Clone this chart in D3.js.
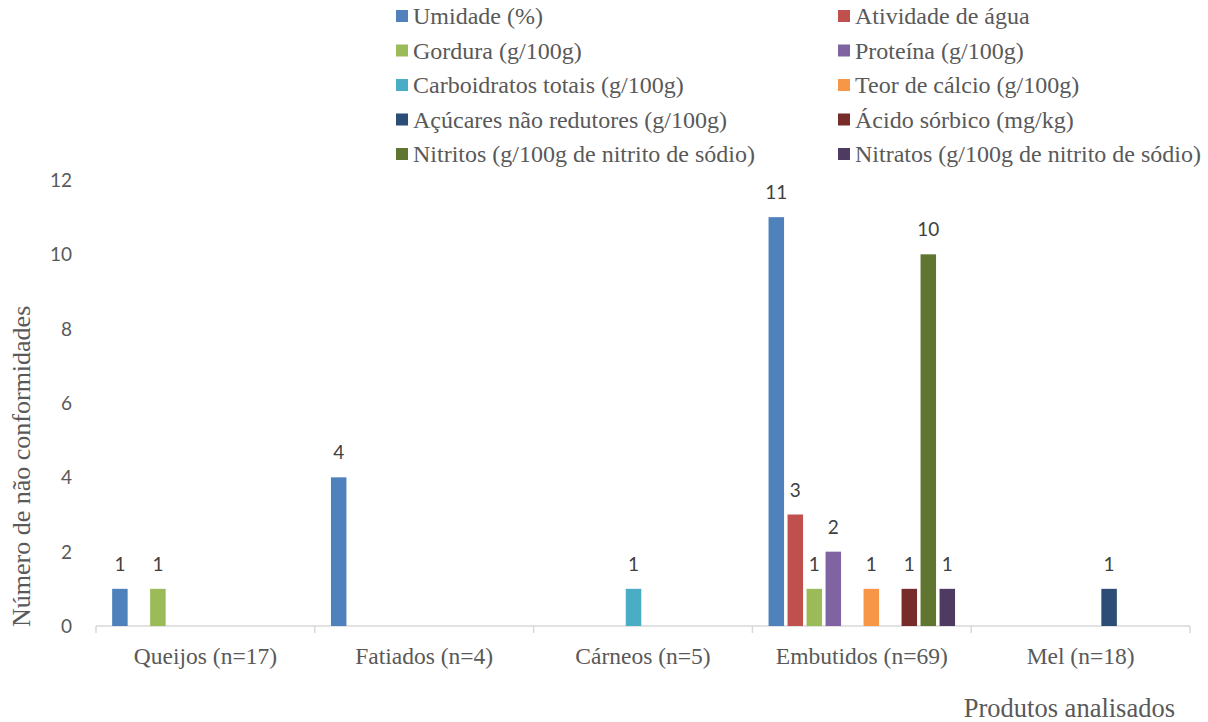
<!DOCTYPE html>
<html>
<head>
<meta charset="utf-8">
<script src="https://cdn.jsdelivr.net/npm/d3@7"></script>
<style>
  body { margin: 0; background: #fff; }
</style>
</head>
<body>
<script>
// categories on the x axis
var categories = ["Queijos (n=17)", "Fatiados (n=4)", "Cárneos (n=5)", "Embutidos (n=69)", "Mel (n=18)"];

// series names (legend order)
var series = [
  "Umidade (%)", "Atividade de água",
  "Gordura (g/100g)", "Proteína (g/100g)",
  "Carboidratos totais (g/100g)", "Teor de cálcio (g/100g)",
  "Açúcares não redutores (g/100g)", "Ácido sórbico (mg/kg)",
  "Nitritos (g/100g de nitrito de sódio)", "Nitratos (g/100g de nitrito de sódio)"
];

var colors = ["#4F81BD", "#C0504D", "#9BBB59", "#8064A2", "#4BACC6",
              "#F79646", "#2C4D75", "#772C2A", "#5F7530", "#4D3B62"];

// values per series, one per category
var umidade      = [1, 4, 0, 11, 0];
var atividade    = [0, 0, 0, 3, 0];
var gordura      = [1, 0, 0, 1, 0];
var proteina     = [0, 0, 0, 2, 0];
var carboidratos = [0, 0, 1, 0, 0];
var calcio       = [0, 0, 0, 1, 0];
var acucares     = [0, 0, 0, 0, 1];
var sorbico      = [0, 0, 0, 1, 0];
var nitritos     = [0, 0, 0, 10, 0];
var nitratos     = [0, 0, 0, 1, 0];

var yTicks = [0, 2, 4, 6, 8, 10, 12];

var values = [umidade, atividade, gordura, proteina, carboidratos,
              calcio, acucares, sorbico, nitritos, nitratos];

var SERIF = "'Liberation Serif', 'Times New Roman', serif";
var SANS = "Lato, 'Open Sans', sans-serif";

// - - - - - - build flat table
var rows = [];
categories.forEach(function(cat, ci){
  series.forEach(function(s, si){
    rows.push({cat: cat, s: s, si: si, v: values[si][ci]});
  });
});

var width = 1208, height = 722;
var margin = {top: 180, right: 18, bottom: 96, left: 96};

var svg = d3.select("body").append("svg")
  .attr("width", width)
  .attr("height", height);

var x0 = d3.scaleBand()
  .domain(categories)
  .range([margin.left, width - margin.right])
  .paddingInner(0)
  .paddingOuter(0);

var x1 = d3.scaleBand()
  .domain(series)
  .range([0, x0.bandwidth()])
  .paddingInner(0.184)
  .paddingOuter(0.85);

var y = d3.scaleLinear()
  .domain([0, 12])
  .range([height - margin.bottom, margin.top]);

// x axis line with boundary ticks
var baseY = y(0);
svg.append("line")
  .attr("x1", x0.range()[0]).attr("x2", x0.range()[1])
  .attr("y1", baseY).attr("y2", baseY)
  .attr("stroke", "#d9d9d9").attr("stroke-width", 1.5);

var bounds = categories.map(function(c){ return x0(c); }).concat([x0.range()[1]]);
svg.selectAll(".xtick")
  .data(bounds)
  .enter().append("line")
  .attr("x1", function(d){ return d; }).attr("x2", function(d){ return d; })
  .attr("y1", baseY).attr("y2", baseY + 7)
  .attr("stroke", "#d9d9d9").attr("stroke-width", 1.5);

svg.selectAll(".xlab")
  .data(categories)
  .enter().append("text")
  .attr("x", function(d){ return x0(d) + x0.bandwidth() / 2; })
  .attr("y", baseY + 38)
  .attr("text-anchor", "middle")
  .attr("fill", "#595959")
  .style("font-family", SERIF)
  .style("font-size", "23.5px")
  .text(function(d){ return d; });

// y tick labels (no axis line)
svg.selectAll(".ylab")
  .data(yTicks)
  .enter().append("text")
  .attr("x", 72)
  .attr("y", function(d){ return y(d); })
  .attr("dy", "0.36em")
  .attr("text-anchor", "end")
  .attr("fill", "#595959")
  .style("font-family", SANS)
  .style("font-size", "19px")
  .text(function(d){ return d; });

// bars
var shown = rows.filter(function(d){ return d.v > 0; });

svg.selectAll(".bar")
  .data(shown)
  .enter().append("rect")
  .attr("x", function(d){ return x0(d.cat) + x1(d.s); })
  .attr("y", function(d){ return y(d.v); })
  .attr("width", x1.bandwidth())
  .attr("height", function(d){ return y(0) - y(d.v); })
  .attr("fill", function(d){ return colors[d.si]; });

svg.selectAll(".val")
  .data(shown)
  .enter().append("text")
  .attr("x", function(d){ return x0(d.cat) + x1(d.s) + x1.bandwidth() / 2; })
  .attr("y", function(d){ return y(d.v) - 18; })
  .attr("text-anchor", "middle")
  .attr("fill", "#404040")
  .style("font-family", SANS)
  .style("font-size", "19px")
  .text(function(d){ return d.v; });

// axis titles
svg.append("text")
  .attr("transform", "translate(30," + (baseY + 1) + ") rotate(-90)")
  .attr("text-anchor", "start")
  .attr("fill", "#595959")
  .style("font-family", SERIF)
  .style("font-size", "26px")
  .text("Número de não conformidades");

svg.append("text")
  .attr("x", 1175)
  .attr("y", 717)
  .attr("text-anchor", "end")
  .attr("fill", "#595959")
  .style("font-family", SERIF)
  .style("font-size", "26.5px")
  .text("Produtos analisados");

// legend, two columns
var legend = svg.selectAll(".leg")
  .data(series)
  .enter().append("g")
  .attr("transform", function(d, i){
    var col = i % 2, row = Math.floor(i / 2);
    return "translate(" + (col === 0 ? 396 : 838) + "," + (16 + row * 34.5) + ")";
  });

legend.append("rect")
  .attr("x", 0).attr("y", -6)
  .attr("width", 12).attr("height", 12)
  .attr("fill", function(d, i){ return colors[i]; });

legend.append("text")
  .attr("x", 17)
  .attr("dy", "0.35em")
  .attr("fill", "#595959")
  .style("font-family", SERIF)
  .style("font-size", "24px")
  .text(function(d){ return d; });
</script>
</body>
</html>
